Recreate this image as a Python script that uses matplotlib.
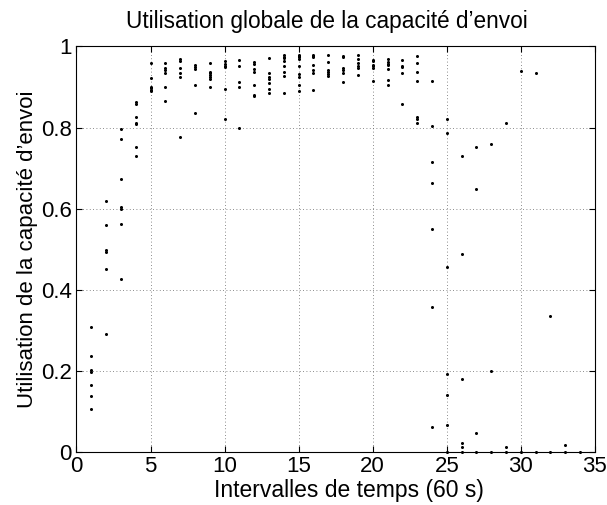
import matplotlib
matplotlib.use('Agg')
import matplotlib.pyplot as plt
import numpy as np

matplotlib.rcParams['font.family'] = ['Liberation Sans', 'DejaVu Sans']

# Utilisation measured per time interval (several flows per interval).
intervals = list(range(1, 35))
utilisation = [
    [0.309, 0.236, 0.201, 0.198, 0.166, 0.137, 0.105],                 # 1
    [0.618, 0.560, 0.498, 0.492, 0.452, 0.290],                        # 2
    [0.796, 0.771, 0.672, 0.605, 0.600, 0.561, 0.427],                 # 3
    [0.862, 0.858, 0.825, 0.811, 0.808, 0.753, 0.731],                 # 4
    [0.960, 0.923, 0.901, 0.897, 0.893, 0.889],                        # 5
    [0.960, 0.948, 0.943, 0.935, 0.901, 0.866],                        # 6
    [0.969, 0.965, 0.946, 0.934, 0.924, 0.776],                        # 7
    [0.955, 0.950, 0.944, 0.905, 0.835],                               # 8
    [0.960, 0.938, 0.934, 0.930, 0.925, 0.919, 0.900],                 # 9
    [0.965, 0.957, 0.952, 0.949, 0.895, 0.820],                        # 10
    [0.967, 0.953, 0.912, 0.899, 0.799],                               # 11
    [0.961, 0.957, 0.944, 0.936, 0.905, 0.881, 0.877],                 # 12
    [0.971, 0.934, 0.924, 0.919, 0.911, 0.895, 0.885],                 # 13
    [0.979, 0.975, 0.971, 0.963, 0.953, 0.938, 0.927, 0.885],          # 14
    [0.980, 0.977, 0.973, 0.969, 0.953, 0.932, 0.924, 0.905, 0.889],   # 15
    [0.980, 0.976, 0.973, 0.955, 0.942, 0.934, 0.893],                 # 16
    [0.978, 0.961, 0.942, 0.937, 0.931, 0.926],                        # 17
    [0.977, 0.974, 0.947, 0.942, 0.935, 0.912],                        # 18
    [0.979, 0.969, 0.959, 0.953, 0.948, 0.930],                        # 19
    [0.967, 0.964, 0.955, 0.951, 0.948, 0.915],                        # 20
    [0.969, 0.961, 0.957, 0.955, 0.944, 0.918, 0.905],                 # 21
    [0.967, 0.952, 0.949, 0.934, 0.859],                               # 22
    [0.977, 0.959, 0.936, 0.915, 0.825, 0.822, 0.811],                 # 23
    [0.916, 0.804, 0.714, 0.663, 0.549, 0.357, 0.061],                 # 24
    [0.821, 0.786, 0.455, 0.192, 0.140, 0.067, 0.0],                   # 25
    [0.731, 0.489, 0.179, 0.021, 0.012, 0.0],                          # 26
    [0.753, 0.649, 0.046, 0.0],                                        # 27
    [0.760, 0.200, 0.0],                                               # 28
    [0.811, 0.012, 0.0],                                               # 29
    [0.939, 0.0],                                                      # 30
    [0.935, 0.0],                                                      # 31
    [0.336, 0.0],                                                      # 32
    [0.018, 0.0],                                                      # 33
    [0.0],                                                             # 34
]

xticks = [0, 5, 10, 15, 20, 25, 30, 35]
yticks = [0, 0.2, 0.4, 0.6, 0.8, 1.0]
yticklabels = ['0', '0.2', '0.4', '0.6', '0.8', '1']

fig = plt.figure(figsize=(6.07, 5.05), dpi=100)
ax = fig.add_axes([0.126, 0.105, 0.854, 0.803])

xs = [x for x, vals in zip(intervals, utilisation) for _ in vals]
ys = [v for vals in utilisation for v in vals]
ax.plot(xs, ys, ls='none', marker='o', ms=2.2, mfc='k', mec='k', mew=0, clip_on=False)

ax.set_xlim(0, 35)
ax.set_ylim(0, 1)
ax.set_xticks(xticks)
ax.set_yticks(yticks)
ax.set_yticklabels(yticklabels)
ax.grid(True, ls=(0, (1, 3)), color='#666666', lw=0.6)
ax.tick_params(direction='in', top=True, right=True, labelsize=16, length=4, width=0.8)
ax.tick_params(axis='x', pad=3)
ax.tick_params(axis='y', pad=3.5)
for s in ax.spines.values():
    s.set_linewidth(0.8)

ax.set_xlabel('Intervalles de temps (60 s)', fontsize=16.5)
ax.xaxis.set_label_coords(0.526, -0.067)
ax.set_ylabel("Utilisation de la capacité d’envoi", fontsize=16, labelpad=2)
ax.set_title("Utilisation globale de la capacité d’envoi", fontsize=16.3, pad=13, x=0.483)

fig.savefig('out.png', dpi=100)
